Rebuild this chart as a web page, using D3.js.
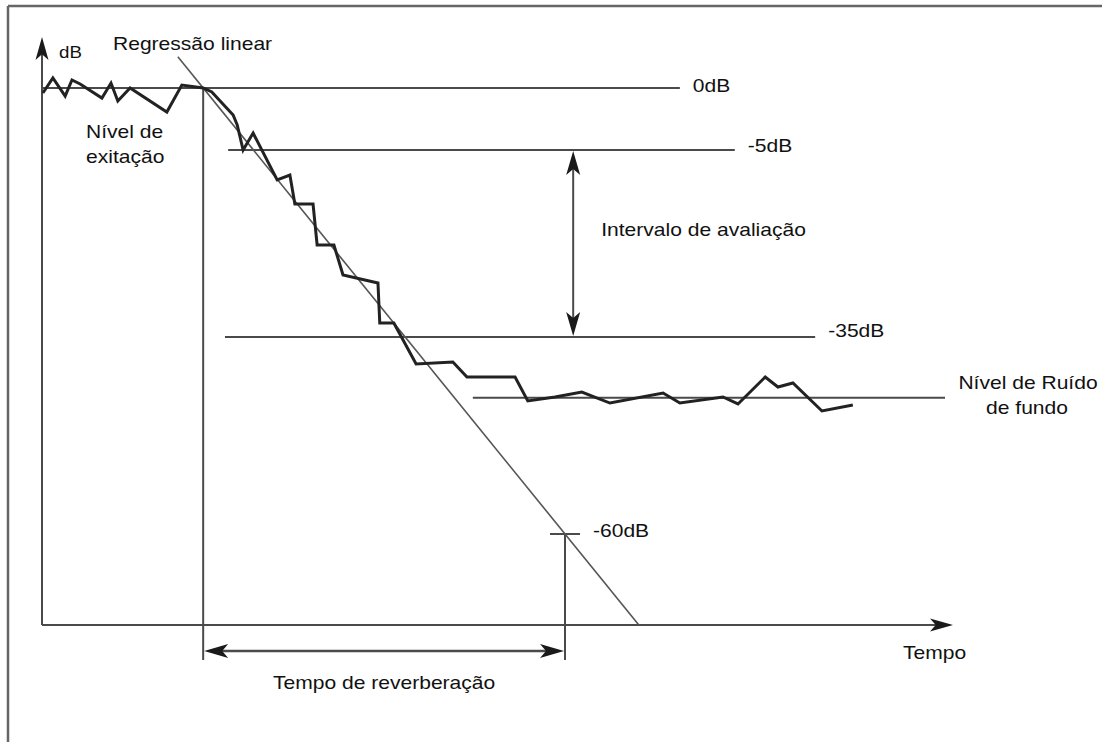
<!DOCTYPE html>
<html>
<head>
<meta charset="utf-8">
<script src="https://cdn.jsdelivr.net/npm/d3@7"></script>
<style>
  html, body { margin: 0; padding: 0; background: #fff; }
  svg { display: block; }
  text { font-family: "Liberation Sans", Arial, sans-serif; fill: #111; }
</style>
</head>
<body>
<svg id="chart" width="1102" height="742"></svg>
<script>
// Reference levels of the decay (dB) and their labels
const levels = [0, -5, -35, -60];
const levelLabels = ["0dB", "-5dB", "-35dB", "-60dB"];

// Time span (s) over which each horizontal reference line is drawn
const levelSpans = [[0, 1.405], [0.410, 1.526], [0.403, 1.703], [1.119, 1.185]];

// Background noise level
const noiseLevel = -42.7;
const noiseSpan = [0.949, 1.989];

// Measured sound level: time (s) and level (dB)
const signalTime = [0.002, 0.024, 0.051, 0.066, 0.084, 0.132, 0.152, 0.167, 0.194, 0.275, 0.308,
  0.355, 0.374, 0.421, 0.430, 0.443, 0.465, 0.518, 0.546, 0.557, 0.597, 0.606, 0.643, 0.663,
  0.740, 0.744, 0.775, 0.824, 0.905, 0.936, 1.042, 1.070, 1.130, 1.189, 1.251, 1.368, 1.405,
  1.500, 1.533, 1.593, 1.621, 1.654, 1.718, 1.786];
const signalLevel = [-0.40, 0.81, -0.65, 0.65, 0.32, -0.81, 0.40, -1.05, 0.0, -1.94, 0.24,
  0.0, -0.32, -2.18, -2.98, -5.0, -3.63, -9.81, -9.01, -13.66, -13.66, -20.24, -20.24, -25.05,
  -26.34, -32.75, -32.75, -38.43, -38.17, -40.08, -40.08, -43.12, -42.61, -41.98, -43.38, -42.11, -43.38,
  -42.61, -43.50, -40.08, -41.35, -40.84, -44.39, -43.63];

// Linear regression of the decay: start of decay (0 dB) and time where it reaches -60 dB
const decayStart = 0.355;
const decayEnd60 = 1.152;

// Evaluation interval (dB) and where its arrow sits in time
const evalRange = [-5, -35];
const evalTime = 1.170;

const svg = d3.select("#chart");

// Time axis and a piecewise level scale (schematic, not to scale between reference levels)
const x = d3.scaleLinear().domain([0, 2]).range([42, 950]);
const y = d3.scaleLinear().domain(levels).range([88, 150, 337, 534]);

const axisY = 625;          // pixel row of the time axis
const lineGrey = "#4a4a4a";

function arrowHead(g, tipX, tipY, angle, len, half) {
  // filled arrowhead with a notched back, pointing along `angle` (radians)
  const notch = len * 0.25;
  const pts = [[0, 0], [-len, -half], [-len + notch, 0], [-len, half]];
  const c = Math.cos(angle), s = Math.sin(angle);
  const p = pts.map(([u, v]) => [tipX + u * c - v * s, tipY + u * s + v * c]);
  g.append("path")
    .attr("d", "M" + p.map(d => d.join(",")).join("L") + "Z")
    .attr("fill", "#1a1a1a");
}

function label(str, px, py, anchor, size) {
  svg.append("text")
    .attr("transform", `translate(${px},${py}) scale(1.17,1)`)
    .attr("text-anchor", anchor || "start")
    .attr("font-size", size || 18)
    .text(str);
}

// Page frame (top and left edges)
svg.append("line").attr("x1", 8).attr("y1", 6).attr("x2", 1102).attr("y2", 6)
  .attr("stroke", "#666").attr("stroke-width", 2.5);
svg.append("line").attr("x1", 8).attr("y1", 6).attr("x2", 8).attr("y2", 742)
  .attr("stroke", "#666").attr("stroke-width", 2.5);

const g = svg.append("g");

// Axes with arrows
g.append("line").attr("x1", x(0)).attr("y1", axisY).attr("x2", x(0)).attr("y2", 50)
  .attr("stroke", lineGrey).attr("stroke-width", 2);
arrowHead(g, x(0), 37, -Math.PI / 2, 23, 6.5);
g.append("line").attr("x1", x(0)).attr("y1", axisY).attr("x2", 940).attr("y2", axisY)
  .attr("stroke", lineGrey).attr("stroke-width", 2);
arrowHead(g, 953, axisY, 0, 23, 6.5);

// Horizontal reference levels, each with its label just past the right end
const labelDy = [4, 2, 0, 3];
levels.forEach((lv, i) => {
  const [t0, t1] = levelSpans[i];
  g.append("line")
    .attr("x1", x(t0)).attr("x2", x(t1))
    .attr("y1", y(lv)).attr("y2", y(lv))
    .attr("stroke", lineGrey).attr("stroke-width", 2);
  label(levelLabels[i], x(t1) + 13, y(lv) + labelDy[i]);
});

// Noise floor
g.append("line")
  .attr("x1", x(noiseSpan[0])).attr("x2", x(noiseSpan[1]))
  .attr("y1", y(noiseLevel)).attr("y2", y(noiseLevel))
  .attr("stroke", lineGrey).attr("stroke-width", 2);

// Vertical markers at decay start and at -60 dB, reaching past the time axis
const markerBottom = axisY + 35;
g.append("line").attr("x1", x(decayStart)).attr("x2", x(decayStart))
  .attr("y1", y(0)).attr("y2", markerBottom)
  .attr("stroke", lineGrey).attr("stroke-width", 2);
g.append("line").attr("x1", x(decayEnd60)).attr("x2", x(decayEnd60))
  .attr("y1", y(-60)).attr("y2", markerBottom)
  .attr("stroke", lineGrey).attr("stroke-width", 2);

// Regression line, extended slightly above 0 dB and down to the time axis
const p0 = [x(decayStart), y(0)], p1 = [x(decayEnd60), y(-60)];
const sTop = -0.07, sBot = (axisY - p0[1]) / (p1[1] - p0[1]);
const at = s => [p0[0] + s * (p1[0] - p0[0]), p0[1] + s * (p1[1] - p0[1])];
g.append("path")
  .attr("d", d3.line()([at(sTop), at(sBot)]))
  .attr("stroke", "#555").attr("stroke-width", 1.6).attr("fill", "none");

// Measured level
const line = d3.line().x(d => x(d[0])).y(d => y(d[1]));
g.append("path")
  .attr("d", line(signalTime.map((t, i) => [t, signalLevel[i]])))
  .attr("fill", "none").attr("stroke", "#222").attr("stroke-width", 3)
  .attr("stroke-linejoin", "miter").attr("stroke-miterlimit", 3);

// Evaluation interval arrow
const ex = x(evalTime);
g.append("line").attr("x1", ex).attr("x2", ex)
  .attr("y1", y(evalRange[0]) + 12).attr("y2", y(evalRange[1]) - 12)
  .attr("stroke", lineGrey).attr("stroke-width", 2);
arrowHead(g, ex, y(evalRange[0]) + 1, -Math.PI / 2, 24, 7);
arrowHead(g, ex, y(evalRange[1]) - 1, Math.PI / 2, 24, 7);

// Reverberation time arrow
const ry = axisY + 26;
g.append("line").attr("x1", x(decayStart) + 12).attr("x2", x(decayEnd60) - 12)
  .attr("y1", ry).attr("y2", ry)
  .attr("stroke", lineGrey).attr("stroke-width", 2.5);
arrowHead(g, x(decayStart) + 1, ry, Math.PI, 24, 7);
arrowHead(g, x(decayEnd60) - 1, ry, 0, 24, 7);

// Annotations
label("dB", x(0) + 17, 58, "start", 16);
label("Regressão linear", 113, 50);
label("Nível de", 86, 138);
label("exitação", 86, 163);
label("Intervalo de avaliação", ex + 28, 236);
label("Nível de Ruído", 1028, 389, "middle");
label("de fundo", 1027, 414, "middle");
label("Tempo", 903, 659);
label("Tempo de reverberação", (x(decayStart) + x(decayEnd60)) / 2, 689, "middle");
</script>
</body>
</html>
